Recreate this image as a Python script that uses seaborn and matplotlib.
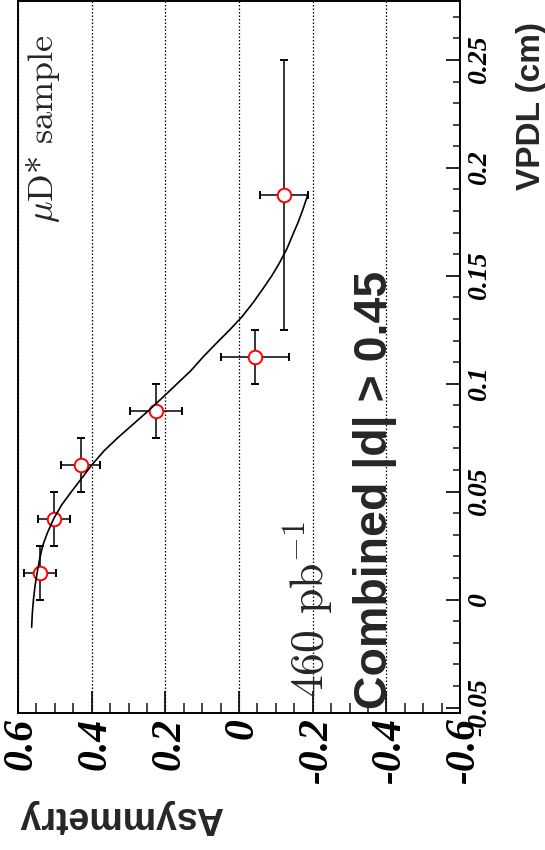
import matplotlib
matplotlib.use("Agg")
import matplotlib.pyplot as plt
import matplotlib.transforms as mtransforms
from matplotlib.ticker import MultipleLocator
import seaborn as sns
import pandas as pd

# Measured asymmetry per VPDL bin
vpdl = [0.0125, 0.0375, 0.0625, 0.0875, 0.1125, 0.1875]
vpdl_err = [0.0125, 0.0125, 0.0125, 0.0125, 0.0125, 0.0625]
asym = [0.540, 0.502, 0.430, 0.226, -0.044, -0.122]
asym_err = [0.044, 0.043, 0.053, 0.070, 0.092, 0.065]

# Fitted asymmetry curve
curve_vpdl = [-0.0128, -0.006, 0.0, 0.006, 0.0125, 0.019, 0.025, 0.031, 0.0375,
              0.044, 0.05, 0.056, 0.0625, 0.069, 0.075, 0.081, 0.0875, 0.094,
              0.1, 0.106, 0.1125, 0.119, 0.125, 0.131, 0.1375, 0.144, 0.15,
              0.156, 0.1625, 0.169, 0.175, 0.181, 0.1874]
curve_asym = [0.563, 0.561, 0.558, 0.554, 0.548, 0.541, 0.533, 0.520, 0.503,
              0.481, 0.455, 0.428, 0.399, 0.366, 0.329, 0.289, 0.246, 0.205,
              0.168, 0.131, 0.097, 0.060, 0.025, -0.008, -0.038, -0.065, -0.089,
              -0.110, -0.130, -0.146, -0.161, -0.174, -0.1865]

# Axis ticks and labels
asym_ticks = [0.6, 0.4, 0.2, 0.0, -0.2, -0.4, -0.6]
asym_tick_labels = ["0.6", "0.4", "0.2", "0", "-0.2", "-0.4", "-0.6"]
vpdl_ticks = [-0.05, 0.0, 0.05, 0.1, 0.15, 0.2, 0.25]
vpdl_tick_labels = ["-0.05", "0", "0.05", "0.1", "0.15", "0.2", "0.25"]

points = pd.DataFrame({"vpdl": vpdl, "asym": asym})
curve = pd.DataFrame({"vpdl": curve_vpdl, "asym": curve_asym})

sns.set_theme(style="white")
plt.rcParams["font.family"] = ["Liberation Serif", "DejaVu Sans"]
plt.rcParams["mathtext.fontset"] = "cm"
plt.rcParams["axes.unicode_minus"] = False

W, H = 545, 850
fig = plt.figure(figsize=(W / 100, H / 100), dpi=100)
ax = fig.add_axes([18 / W, 1 - 712.5 / H, 442 / W, 711.5 / H])
ax.set_facecolor("white")

# Asymmetry runs horizontally (decreasing to the right), VPDL vertically
ax.set_xlim(0.6, -0.6)
ax.set_ylim(-0.0523, 0.2773)

for sp in ax.spines.values():
    sp.set_visible(True)
    sp.set_color("black")
    sp.set_linewidth(1.4)

tick_font = dict(family="Liberation Serif", weight="bold", style="italic")
ax.set_xticks(asym_ticks, labels=asym_tick_labels, rotation=90, fontsize=30, **tick_font)
ax.xaxis.set_minor_locator(MultipleLocator(0.05))
ax.yaxis.tick_right()
ax.set_yticks(vpdl_ticks, labels=vpdl_tick_labels, rotation=90, va="center",
              fontsize=20, **tick_font)
ax.yaxis.set_minor_locator(MultipleLocator(0.01))

ax.tick_params(axis="x", which="major", direction="in", length=16, width=1.2,
               pad=4, bottom=True, top=False, colors="black")
ax.tick_params(axis="x", which="minor", direction="in", length=7.5, width=1.2,
               bottom=True, top=False)
ax.tick_params(axis="y", which="major", direction="in", length=10, width=1.2,
               pad=5, left=False, right=True, labelleft=False, labelright=True,
               colors="black")
ax.tick_params(axis="y", which="minor", direction="in", length=5, width=1.2,
               left=False, right=True)

shift = mtransforms.ScaledTranslation(4 / 100, 0, fig.dpi_scale_trans)
for lab in ax.get_xticklabels():
    lab.set_transform(lab.get_transform() + shift)

ax.grid(True, axis="x", which="major", color="black", linestyle=(0, (1.2, 1.6)),
        linewidth=0.9)
ax.grid(False, axis="y")

# Error bars, markers and the fitted curve
ax.errorbar(asym, vpdl, xerr=asym_err, yerr=vpdl_err, fmt="none", ecolor="black",
            elinewidth=1.1, capsize=2.9, capthick=1.4, zorder=3)
sns.scatterplot(data=points, x="asym", y="vpdl", ax=ax, marker="o", s=95,
                facecolor="white", edgecolor="red", linewidth=1.4, zorder=4)
sns.lineplot(data=curve, x="asym", y="vpdl", ax=ax, sort=False, estimator=None,
             color="black", linewidth=1.2, zorder=5)
ax.set_xlabel("")
ax.set_ylabel("")


def ax_pos(px, py):
    return (px - 18) / 442, (712.5 - py) / 712.5


ax.text(*ax_pos(53, 222), r"$\mu$D* sample", transform=ax.transAxes, rotation=90,
        rotation_mode="anchor", ha="left", va="baseline", fontsize=26,
        family=["cmr10", "DejaVu Serif"])
ax.text(*ax_pos(323, 698), r"460 pb$^{-1}$", transform=ax.transAxes, rotation=90,
        rotation_mode="anchor", ha="left", va="baseline", fontsize=33,
        family=["cmr10", "DejaVu Serif"])
ax.text(*ax_pos(387, 709), "Combined |d| > 0.45", transform=ax.transAxes, rotation=90,
        rotation_mode="anchor", ha="left", va="baseline", fontsize=33.5,
        family="Liberation Sans", weight="bold", zorder=6)

fig.text(540 / W, 1 - 190 / H, "VPDL (cm)", rotation=90, rotation_mode="anchor",
         ha="left", va="baseline", fontsize=24, family="Liberation Sans", weight="bold")
fig.text(223 / W, 1 - 806.7 / H, "Asymmetry", rotation=180, rotation_mode="anchor",
         ha="left", va="baseline", fontsize=27, family="Liberation Sans", weight="bold")

fig.savefig("out.png", dpi=100, facecolor="white")
